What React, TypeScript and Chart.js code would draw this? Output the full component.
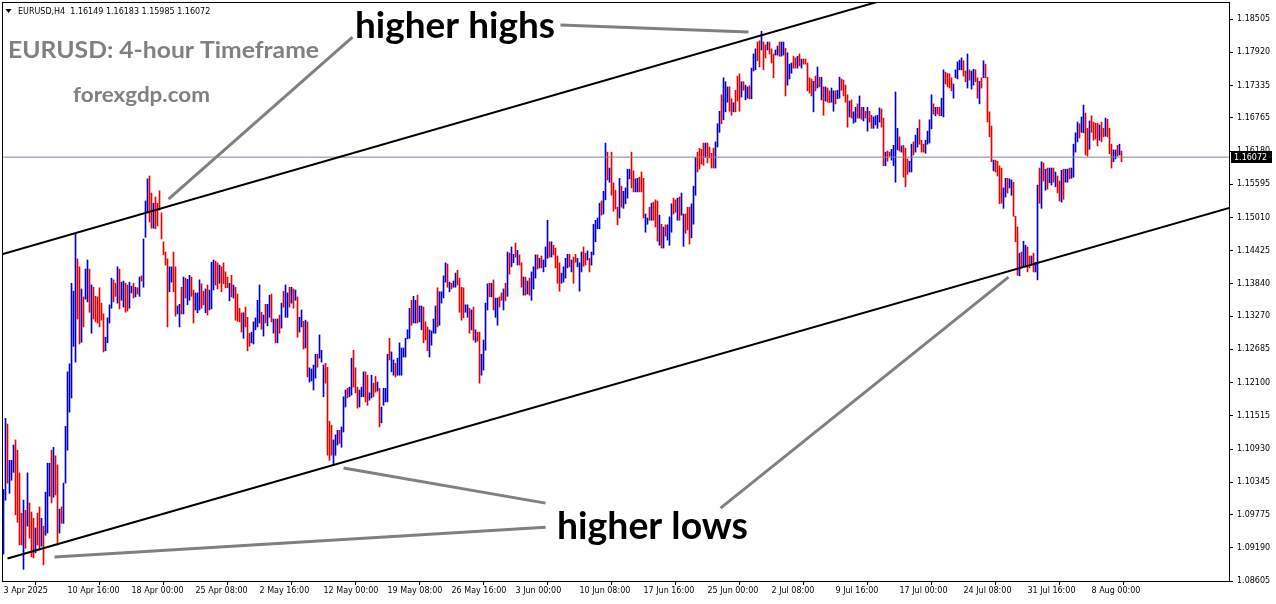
import React, { useEffect, useRef } from 'react';
import { Chart, registerables } from 'chart.js';

Chart.register(...registerables);

// ---- Data (EURUSD H4, one entry per bar) ----
const highs: number[] = [
  1.1022,1.1147,1.1137,1.1073,1.1073,1.1100,1.1109,1.1091,1.1051,1.0980,
  1.1003,1.0985,1.1051,1.0998,1.0982,1.0971,1.0954,1.0980,1.0991,1.0971,
  1.0957,1.1017,1.1068,1.1068,1.1091,1.1096,1.1081,1.1065,1.0987,1.0991,
  1.1033,1.1133,1.1229,1.1243,1.1385,1.1371,1.1473,1.1428,1.1414,1.1375,
  1.1361,1.1410,1.1426,1.1410,1.1382,1.1378,1.1362,1.1361,1.1377,1.1350,
  1.1331,1.1290,1.1324,1.1347,1.1394,1.1391,1.1385,1.1414,1.1410,1.1387,
  1.1389,1.1385,1.1382,1.1387,1.1380,1.1385,1.1378,1.1377,1.1396,1.1398,
  1.1463,1.1530,1.1569,1.1574,1.1544,1.1526,1.1537,1.1526,1.1548,1.1509,
  1.1458,1.1440,1.1428,1.1414,1.1414,1.1440,1.1414,1.1345,1.1348,1.1378,
  1.1396,1.1394,1.1392,1.1399,1.1396,1.1373,1.1368,1.1368,1.1391,1.1384,
  1.1371,1.1375,1.1382,1.1373,1.1422,1.1426,1.1424,1.1421,1.1417,1.1414,
  1.1421,1.1405,1.1396,1.1385,1.1399,1.1382,1.1378,1.1366,1.1341,1.1333,
  1.1333,1.1343,1.1325,1.1297,1.1299,1.1317,1.1324,1.1355,1.1382,1.1334,
  1.1329,1.1348,1.1348,1.1364,1.1366,1.1322,1.1322,1.1322,1.1329,1.1350,
  1.1371,1.1382,1.1368,1.1378,1.1378,1.1375,1.1373,1.1361,1.1325,1.1338,
  1.1318,1.1320,1.1317,1.1236,1.1234,1.1241,1.1260,1.1260,1.1294,1.1267,
  1.1241,1.1244,1.1237,1.1142,1.1135,1.1109,1.1118,1.1126,1.1126,1.1132,
  1.1185,1.1197,1.1200,1.1202,1.1253,1.1267,1.1236,1.1202,1.1197,1.1202,
  1.1229,1.1229,1.1223,1.1192,1.1223,1.1209,1.1221,1.1211,1.1200,1.1167,
  1.1200,1.1200,1.1260,1.1288,1.1264,1.1250,1.1244,1.1253,1.1280,1.1271,
  1.1271,1.1288,1.1303,1.1341,1.1355,1.1362,1.1355,1.1364,1.1345,1.1345,
  1.1343,1.1317,1.1308,1.1303,1.1301,1.1322,1.1345,1.1377,1.1370,1.1370,
  1.1398,1.1421,1.1419,1.1387,1.1385,1.1389,1.1403,1.1408,1.1394,1.1378,
  1.1377,1.1347,1.1347,1.1341,1.1338,1.1343,1.1303,1.1299,1.1299,1.1260,
  1.1285,1.1350,1.1384,1.1385,1.1385,1.1391,1.1359,1.1359,1.1361,1.1368,
  1.1375,1.1385,1.1440,1.1438,1.1449,1.1436,1.1456,1.1443,1.1435,1.1421,
  1.1396,1.1396,1.1389,1.1394,1.1405,1.1414,1.1435,1.1435,1.1429,1.1433,
  1.1426,1.1449,1.1496,1.1458,1.1458,1.1452,1.1447,1.1433,1.1421,1.1403,
  1.1414,1.1429,1.1436,1.1436,1.1426,1.1431,1.1436,1.1429,1.1421,1.1440,
  1.1449,1.1438,1.1442,1.1429,1.1440,1.1489,1.1496,1.1500,1.1526,1.1530,
  1.1547,1.1632,1.1616,1.1588,1.1616,1.1562,1.1549,1.1519,1.1570,1.1556,
  1.1547,1.1553,1.1586,1.1586,1.1616,1.1583,1.1569,1.1570,1.1572,1.1581,
  1.1570,1.1507,1.1500,1.1519,1.1526,1.1528,1.1532,1.1530,1.1505,1.1489,
  1.1484,1.1488,1.1488,1.1502,1.1525,1.1535,1.1532,1.1535,1.1537,1.1544,
  1.1507,1.1507,1.1519,1.1519,1.1525,1.1556,1.1607,1.1616,1.1623,1.1621,
  1.1632,1.1632,1.1632,1.1625,1.1614,1.1623,1.1634,1.1666,1.1688,1.1717,
  1.1747,1.1740,1.1731,1.1731,1.1710,1.1703,1.1725,1.1750,1.1754,1.1740,
  1.1740,1.1734,1.1731,1.1733,1.1764,1.1789,1.1798,1.1810,1.1812,1.1829,
  1.1810,1.1805,1.1810,1.1810,1.1798,1.1789,1.1796,1.1803,1.1810,1.1810,
  1.1810,1.1799,1.1791,1.1771,1.1773,1.1785,1.1782,1.1785,1.1789,1.1780,
  1.1780,1.1780,1.1773,1.1747,1.1745,1.1741,1.1750,1.1766,1.1748,1.1748,
  1.1731,1.1731,1.1729,1.1724,1.1729,1.1724,1.1724,1.1725,1.1748,1.1745,
  1.1743,1.1734,1.1717,1.1706,1.1708,1.1687,1.1695,1.1701,1.1715,1.1695,
  1.1695,1.1688,1.1695,1.1688,1.1681,1.1678,1.1680,1.1681,1.1694,1.1692,
  1.1676,1.1616,1.1618,1.1616,1.1621,1.1628,1.1722,1.1658,1.1643,1.1627,
  1.1628,1.1623,1.1604,1.1600,1.1630,1.1634,1.1646,1.1658,1.1673,1.1637,
  1.1630,1.1637,1.1653,1.1673,1.1717,1.1701,1.1695,1.1695,1.1695,1.1711,
  1.1761,1.1757,1.1755,1.1754,1.1747,1.1736,1.1761,1.1775,1.1778,1.1782,
  1.1777,1.1759,1.1789,1.1761,1.1759,1.1762,1.1761,1.1747,1.1741,1.1747,
  1.1777,1.1771,1.1748,1.1687,1.1662,1.1602,1.1602,1.1600,1.1592,1.1588,
  1.1553,1.1570,1.1570,1.1569,1.1567,1.1563,1.1503,1.1484,1.1438,1.1440,
  1.1459,1.1452,1.1449,1.1433,1.1433,1.1438,1.1422,1.1558,1.1588,1.1599,
  1.1597,1.1586,1.1588,1.1588,1.1588,1.1588,1.1581,1.1574,1.1565,1.1584,
  1.1586,1.1586,1.1586,1.1588,1.1588,1.1630,1.1650,1.1669,1.1666,1.1678,
  1.1699,1.1685,1.1658,1.1671,1.1680,1.1669,1.1667,1.1667,1.1664,1.1669,
  1.1658,1.1676,1.1674,1.1658,1.1630,1.1620,1.1620,1.1628,1.1630,1.1618,
];

const lows: number[] = [
  1.0908,1.1003,1.1033,1.1015,1.1038,1.1052,1.0977,1.0964,1.0924,1.0924,
  1.0881,1.0918,1.0957,1.0936,1.0903,1.0901,1.0910,1.0924,1.0915,1.0922,
  1.0889,1.0941,1.0945,1.1010,1.0998,1.1008,1.1012,1.0924,1.0945,1.0962,
  1.0962,1.1033,1.1091,1.1158,1.1183,1.1274,1.1246,1.1322,1.1278,1.1281,
  1.1308,1.1357,1.1352,1.1334,1.1297,1.1322,1.1317,1.1315,1.1308,1.1320,
  1.1264,1.1266,1.1280,1.1315,1.1341,1.1352,1.1362,1.1350,1.1340,1.1355,
  1.1343,1.1334,1.1336,1.1341,1.1368,1.1359,1.1361,1.1366,1.1362,1.1389,
  1.1378,1.1466,1.1509,1.1493,1.1482,1.1482,1.1481,1.1486,1.1514,1.1463,
  1.1435,1.1417,1.1308,1.1370,1.1387,1.1370,1.1327,1.1331,1.1308,1.1331,
  1.1331,1.1359,1.1347,1.1355,1.1362,1.1315,1.1338,1.1333,1.1338,1.1341,
  1.1347,1.1333,1.1329,1.1338,1.1340,1.1373,1.1382,1.1375,1.1385,1.1370,
  1.1384,1.1377,1.1377,1.1354,1.1361,1.1359,1.1320,1.1318,1.1317,1.1299,
  1.1288,1.1308,1.1266,1.1274,1.1280,1.1278,1.1303,1.1308,1.1315,1.1304,
  1.1292,1.1315,1.1310,1.1325,1.1317,1.1297,1.1280,1.1280,1.1297,1.1306,
  1.1343,1.1325,1.1325,1.1343,1.1350,1.1341,1.1355,1.1290,1.1299,1.1308,
  1.1269,1.1271,1.1220,1.1211,1.1213,1.1197,1.1218,1.1237,1.1253,1.1246,
  1.1185,1.1209,1.1082,1.1073,1.1082,1.1065,1.1082,1.1100,1.1103,1.1096,
  1.1123,1.1167,1.1183,1.1185,1.1188,1.1202,1.1192,1.1165,1.1167,1.1185,
  1.1185,1.1176,1.1170,1.1179,1.1183,1.1185,1.1193,1.1195,1.1132,1.1139,
  1.1170,1.1176,1.1176,1.1250,1.1229,1.1223,1.1220,1.1223,1.1223,1.1223,
  1.1255,1.1255,1.1287,1.1288,1.1311,1.1315,1.1315,1.1315,1.1317,1.1303,
  1.1280,1.1285,1.1266,1.1255,1.1276,1.1297,1.1297,1.1308,1.1311,1.1350,
  1.1359,1.1387,1.1378,1.1370,1.1375,1.1378,1.1378,1.1382,1.1334,1.1320,
  1.1324,1.1334,1.1325,1.1297,1.1303,1.1285,1.1281,1.1283,1.1209,1.1223,
  1.1232,1.1267,1.1338,1.1361,1.1361,1.1338,1.1325,1.1311,1.1343,1.1355,
  1.1338,1.1354,1.1362,1.1401,1.1414,1.1421,1.1431,1.1417,1.1417,1.1378,
  1.1364,1.1364,1.1366,1.1364,1.1355,1.1375,1.1394,1.1410,1.1412,1.1412,
  1.1405,1.1414,1.1429,1.1431,1.1431,1.1435,1.1412,1.1385,1.1371,1.1385,
  1.1387,1.1394,1.1412,1.1414,1.1405,1.1385,1.1422,1.1414,1.1371,1.1405,
  1.1415,1.1417,1.1426,1.1405,1.1417,1.1435,1.1458,1.1481,1.1481,1.1505,
  1.1507,1.1532,1.1567,1.1563,1.1540,1.1512,1.1516,1.1488,1.1500,1.1519,
  1.1517,1.1525,1.1535,1.1569,1.1553,1.1546,1.1546,1.1546,1.1546,1.1546,
  1.1500,1.1475,1.1489,1.1496,1.1496,1.1496,1.1484,1.1459,1.1452,1.1447,
  1.1447,1.1468,1.1461,1.1452,1.1475,1.1507,1.1510,1.1496,1.1496,1.1505,
  1.1450,1.1473,1.1479,1.1454,1.1465,1.1489,1.1540,1.1581,1.1586,1.1595,
  1.1593,1.1607,1.1597,1.1606,1.1588,1.1588,1.1588,1.1625,1.1651,1.1666,
  1.1673,1.1687,1.1704,1.1688,1.1681,1.1687,1.1687,1.1706,1.1688,1.1713,
  1.1725,1.1708,1.1711,1.1710,1.1710,1.1759,1.1761,1.1777,1.1766,1.1796,
  1.1761,1.1782,1.1796,1.1789,1.1773,1.1747,1.1787,1.1787,1.1785,1.1785,
  1.1787,1.1715,1.1734,1.1745,1.1755,1.1764,1.1764,1.1764,1.1768,1.1764,
  1.1771,1.1771,1.1724,1.1720,1.1715,1.1687,1.1724,1.1729,1.1731,1.1708,
  1.1681,1.1706,1.1704,1.1703,1.1704,1.1688,1.1701,1.1710,1.1711,1.1725,
  1.1715,1.1704,1.1660,1.1678,1.1676,1.1667,1.1669,1.1676,1.1676,1.1674,
  1.1671,1.1676,1.1653,1.1669,1.1658,1.1658,1.1664,1.1658,1.1669,1.1660,
  1.1592,1.1592,1.1600,1.1609,1.1602,1.1592,1.1563,1.1620,1.1618,1.1616,
  1.1572,1.1555,1.1577,1.1581,1.1581,1.1611,1.1616,1.1625,1.1630,1.1616,
  1.1616,1.1614,1.1630,1.1632,1.1657,1.1683,1.1680,1.1683,1.1680,1.1680,
  1.1678,1.1736,1.1731,1.1729,1.1724,1.1711,1.1747,1.1745,1.1761,1.1761,
  1.1750,1.1740,1.1729,1.1743,1.1727,1.1734,1.1740,1.1711,1.1701,1.1729,
  1.1747,1.1747,1.1669,1.1643,1.1599,1.1583,1.1581,1.1574,1.1525,1.1526,
  1.1517,1.1537,1.1544,1.1553,1.1540,1.1503,1.1458,1.1399,1.1398,1.1412,
  1.1414,1.1414,1.1405,1.1412,1.1417,1.1405,1.1405,1.1391,1.1526,1.1517,
  1.1565,1.1549,1.1551,1.1562,1.1558,1.1563,1.1555,1.1544,1.1530,1.1528,
  1.1533,1.1563,1.1563,1.1569,1.1570,1.1572,1.1616,1.1634,1.1641,1.1651,
  1.1650,1.1611,1.1609,1.1621,1.1651,1.1637,1.1639,1.1627,1.1637,1.1634,
  1.1643,1.1644,1.1643,1.1613,1.1588,1.1599,1.1604,1.1609,1.1611,1.1599,
];

// u = bullish (close above open), d = bearish; groups of ten bars
const directions =
  'uuduuudddd ududdduddu duuududdud uuuuuuuddu duududdddd duuuuddudu udduududud uuuddudddd ' +
  'ddduudduud uduudduuud duduuuddud dddududddd uddduuuuud uduudududu duudududuu duduuuuduu ' +
  'udddduuudu uuduuddduu udduuddudu uuuduuduuu uuuuduuduu ddduuuuduu uududuuddd duudududdu ' +
  'uuududuudd ududuududd ududuuudud uuududdddu uuududduuu dduduuuuud uududdddud uuuudduudd ' +
  'duududddud uduuuddudu uddduuuddd dudddduuud uuuddudddu duuduuuddu dduddduudu uduuuddudu ' +
  'dddddududu dudduuduud ddduduudud ududduuuud dudduuuudu ddduuduudd duuuududdu udddduuuuu ' +
  'dduduuddud uddddudddd uuduudddud uudduduudu duduududdu duuduuuudu udduddddud duddduudud';

const lastBarOHLC = [1.16149, 1.16183, 1.15985, 1.16072];

const xTickBars = [0, 32, 64, 96, 128, 160, 192, 224, 256, 288, 320, 352, 384, 416, 448, 480, 512, 544];
const xTickLabels = [
  '3 Apr 2025', '10 Apr 16:00', '18 Apr 00:00', '25 Apr 08:00', '2 May 16:00', '12 May 00:00',
  '19 May 08:00', '26 May 16:00', '3 Jun 00:00', '10 Jun 08:00', '17 Jun 16:00', '25 Jun 00:00',
  '2 Jul 08:00', '9 Jul 16:00', '17 Jul 00:00', '24 Jul 08:00', '31 Jul 16:00', '8 Aug 00:00',
];
const yTickValues = [
  1.18505, 1.1792, 1.17335, 1.16765, 1.1618, 1.15595, 1.1501, 1.14425, 1.1384,
  1.1327, 1.12685, 1.121, 1.11515, 1.1093, 1.10345, 1.09775, 1.0919, 1.08605,
];

// channel trend lines (bar index, price)
const upperChannel = [{ x: -0.75, y: 1.1436 }, { x: 450, y: 1.1894 }];
const lowerChannel = [{ x: 2, y: 1.09 }, { x: 613, y: 1.1518 }];

// grey pointer lines from the captions to the swing points (bar index, price)
const pointerLines = [
  [{ x: 82.5, y: 1.15334 }, { x: 174.5, y: 1.18188 }],
  [{ x: 278.5, y: 1.184 }, { x: 372.5, y: 1.18276 }],
  [{ x: 170, y: 1.10594 }, { x: 271, y: 1.09977 }],
  [{ x: 25.5, y: 1.09026 }, { x: 271, y: 1.09554 }],
  [{ x: 358.5, y: 1.09889 }, { x: 502.5, y: 1.13959 }],
];

const captions = [
  { text: 'EURUSD: 4-hour Timeframe', x: 8, y: 58, width: 311, size: 22, color: '#808080' },
  { text: 'forexgdp.com', x: 73, y: 102, width: 137, size: 21, color: '#808080' },
  { text: 'higher highs', x: 355, y: 38, width: 200, size: 37, color: '#000000' },
  { text: 'higher lows', x: 557, y: 539, width: 191, size: 38, color: '#000000' },
];

const BLUE = '#0000cc';
const RED = '#e60000';
const AXIS_FONT = { family: '"DejaVu Sans"', size: 8 };

const overlayPlugin = {
  id: 'overlay',
  afterDraw(chart: any) {
    const { ctx, chartArea: a, scales } = chart;
    ctx.save();
    // frame
    ctx.strokeStyle = '#000';
    ctx.lineWidth = 1;
    ctx.strokeRect(a.left + 0.5, a.top + 0.5, a.right - a.left, a.bottom - a.top);

    // header
    ctx.fillStyle = '#000';
    ctx.beginPath();
    ctx.moveTo(5.5, 9);
    ctx.lineTo(11.5, 9);
    ctx.lineTo(8.5, 13);
    ctx.closePath();
    ctx.fill();
    ctx.font = '8px "DejaVu Sans"';
    ctx.textBaseline = 'alphabetic';
    ctx.textAlign = 'left';
    ctx.fillText('EURUSD,H4  ' + lastBarOHLC.map((v) => v.toFixed(5)).join(' '), 18, 14);

    // captions
    for (const c of captions) {
      ctx.font = `bold ${c.size}px Lato`;
      const w = ctx.measureText(c.text).width;
      ctx.save();
      ctx.translate(c.x, c.y);
      ctx.scale(c.width / w, 1);
      ctx.fillStyle = c.color;
      ctx.fillText(c.text, 0, 0);
      ctx.restore();
    }

    // current price box
    const close = lastBarOHLC[3];
    const py = Math.round(scales.y.getPixelForValue(close));
    ctx.fillStyle = '#000';
    ctx.fillRect(a.right + 2, py - 6, 41, 12);
    ctx.fillStyle = '#fff';
    ctx.font = '8px "DejaVu Sans"';
    ctx.textBaseline = 'middle';
    ctx.fillText(close.toFixed(5), a.right + 5, py + 0.5);
    ctx.restore();
  },
};

export default function App() {
  const ref = useRef<HTMLCanvasElement>(null);

  useEffect(() => {
    const dirs = directions.replace(/\s+/g, '');
    const lineDs = (data: any[], color: string, width: number, order: number) => ({
      type: 'line' as const,
      data,
      borderColor: color,
      borderWidth: width,
      pointRadius: 0,
      fill: false,
      tension: 0,
      clip: 0,
      order,
    });

    const chart = new Chart(ref.current as HTMLCanvasElement, {
      type: 'bar',
      data: {
        datasets: [
          {
            type: 'bar',
            data: highs.map((h, i) => ({ x: i, y: [lows[i], h] })) as any,
            backgroundColor: highs.map((_, i) => (dirs[i] === 'd' ? RED : BLUE)),
            borderWidth: 0,
            barThickness: 1,
            grouped: false,
            order: 5,
          } as any,
          lineDs(
            [{ x: -0.75, y: lastBarOHLC[3] }, { x: 612.75, y: lastBarOHLC[3] }],
            '#778899', 1, 4
          ),
          lineDs(upperChannel, '#000000', 2, 3),
          lineDs(lowerChannel, '#000000', 2, 3),
          ...pointerLines.map((p) => lineDs(p, '#808080', 3, 1)),
        ] as any,
      },
      options: {
        animation: false,
        responsive: false,
        devicePixelRatio: 1,
        events: [],
        layout: { padding: { top: 2, left: 2, right: 0, bottom: 0 } },
        plugins: { legend: { display: false }, tooltip: { enabled: false } },
        scales: {
          x: {
            type: 'linear',
            min: -0.75,
            max: 612.75,
            offset: false,
            afterBuildTicks: (s: any) => {
              s.ticks = xTickBars.map((v) => ({ value: v }));
            },
            afterFit: (s: any) => {
              s.height = 23;
              s.paddingLeft = 0;
              s.paddingRight = 0;
            },
            ticks: {
              autoSkip: false,
              maxRotation: 0,
              minRotation: 0,
              align: 'start',
              padding: 1,
              color: '#000',
              font: AXIS_FONT,
              callback: (_v: any, idx: number) => xTickLabels[idx],
            },
            grid: { drawOnChartArea: false, drawTicks: true, tickLength: 4, color: '#000' },
            border: { display: false },
          },
          y: {
            type: 'linear',
            position: 'right',
            min: 1.08605,
            max: 1.18805,
            afterBuildTicks: (s: any) => {
              s.ticks = yTickValues.map((v) => ({ value: v }));
            },
            afterFit: (s: any) => {
              s.width = 47;
              s.paddingTop = 0;
              s.paddingBottom = 0;
            },
            ticks: {
              padding: 4,
              color: '#000',
              font: AXIS_FONT,
              callback: (v: any) => Number(v).toFixed(5),
            },
            grid: { drawOnChartArea: false, drawTicks: true, tickLength: 4, color: '#000' },
            border: { display: false },
          },
        } as any,
      },
      plugins: [overlayPlugin],
    });
    return () => chart.destroy();
  }, []);

  return (
    <div style={{ position: 'fixed', left: 0, top: 0, width: 1276, height: 604, background: '#fff' }}>
      <canvas ref={ref} width={1276} height={604} style={{ display: 'block', width: 1276, height: 604 }} />
    </div>
  );
}
